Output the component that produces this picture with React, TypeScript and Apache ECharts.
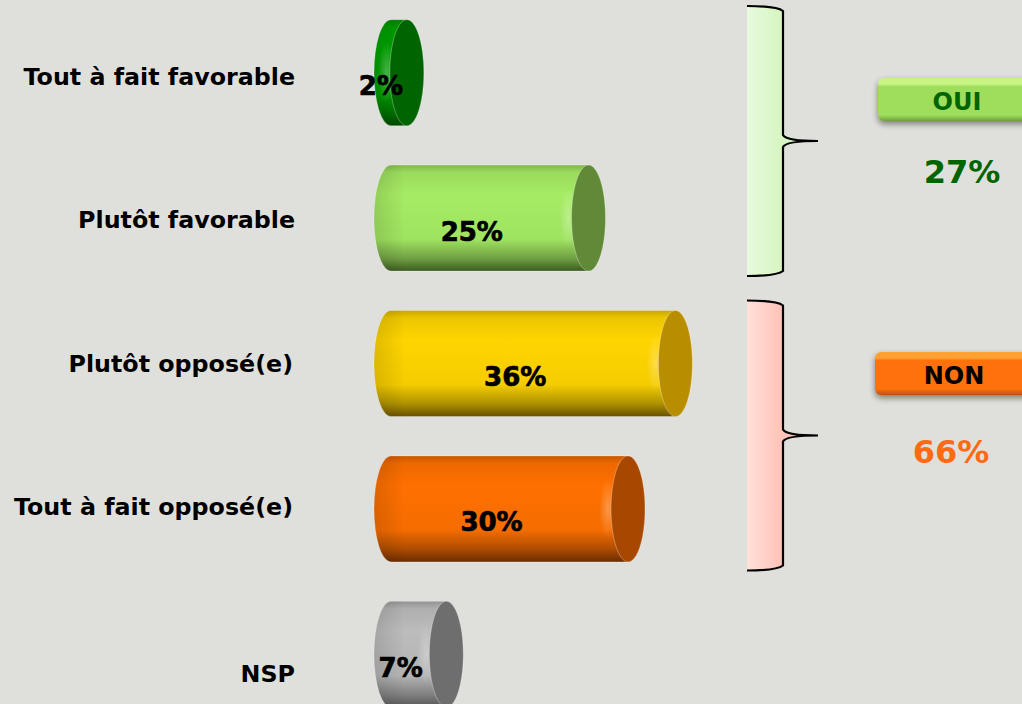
import React, { useEffect, useRef } from "react";
import * as echarts from "echarts";

const categories = ["Tout à fait favorable", "Plutôt favorable", "Plutôt opposé(e)", "Tout à fait opposé(e)", "NSP"];
const values = [2, 25, 36, 30, 7];
const labelTexts = ["2%", "25%", "36%", "30%", "7%"];
const bodyColors = ["#00a400", "#a6ec64", "#ffd500", "#ff7000", "#bcbcbc"];
const capColors = ["#006400", "#618a38", "#b88d00", "#a84800", "#6e6e6e"];
const edgeColors = ["#004a00", "#3c5c20", "#6a5000", "#6a2c00", "#555555"];
const categoryRightEdges = [295, 295, 293, 293, 295];
const categoryCentres = [77, 220, 364, 507, 674];

const groupTitles = ["OUI", "NON"];
const groupTotals = ["27%", "66%"];
const groupTitleColors = ["#006400", "#000000"];
const groupTotalColors = ["#006400", "#ff6a13"];
const groupFaces = ["#9ede5c", "#ff7108"];
const groupBevels = ["#c8f484", "#ffa030"];
const groupShades = ["#6f9e3e", "#b3541a"];
const groupBraceFills = [["#e8fadf", "#d6f5c0"], ["#ffe0da", "#ffc2b6"]];

const BG = "#dfe0db";
const FONT = '"DejaVu Sans"';
const BAR_H = 106;
const CAP_RX = 17;

const BRACE_LINE =
  "M747,6 C765,6 778,7 783,11 L783,135 C785,139 795,141 818,141 C795,141 785,143 783,147 L783,271 C778,275 765,276 747,276";
const BRACE_FILL = BRACE_LINE + " Z";
echarts.graphic.registerShape("braceFill", echarts.graphic.extendPath(BRACE_FILL, {}) as any);
echarts.graphic.registerShape("braceLine", echarts.graphic.extendPath(BRACE_LINE, {}) as any);

function shade(hex: string, k: number) {
  const n = parseInt(hex.slice(1), 16);
  const r = Math.round(((n >> 16) & 255) * k);
  const g = Math.round(((n >> 8) & 255) * k);
  const b = Math.round((n & 255) * k);
  return `rgb(${r},${g},${b})`;
}

function renderCylinder(params: any, api: any) {
  const i = params.dataIndex;
  const v = api.value(0);
  const [xL, cy] = api.coord([0, i]);
  const [xR] = api.coord([v, i]);
  const top = cy - BAR_H / 2;
  const bottom = cy + BAR_H / 2;
  const d = `M${xL},${top} L${xR},${top} A${CAP_RX},${BAR_H / 2} 0 0 1 ${xR},${bottom} L${xL},${bottom} A${CAP_RX},${BAR_H / 2} 0 0 1 ${xL},${top} Z`;
  const mid = bodyColors[i];
  return {
    type: "group",
    children: [
      {
        type: "path",
        shape: { pathData: d },
        style: {
          fill: new echarts.graphic.LinearGradient(0, 0, 0, 1, [
            { offset: 0, color: shade(mid, 0.78) },
            { offset: 0.07, color: shade(mid, 0.93) },
            { offset: 0.28, color: mid },
            { offset: 0.7, color: shade(mid, 0.96) },
            { offset: 0.88, color: shade(mid, 0.68) },
            { offset: 1, color: edgeColors[i] },
          ]),
          stroke: "rgba(255,255,255,0.3)",
          lineWidth: 1,
        },
      },
      {
        type: "path",
        shape: { pathData: d },
        style: {
          fill: new echarts.graphic.LinearGradient(xL - CAP_RX, 0, xL + 14, 0, [
            { offset: 0, color: "rgba(0,0,0,0.12)" },
            { offset: 1, color: "rgba(0,0,0,0)" },
          ], true),
        },
      },
      {
        type: "ellipse",
        shape: { cx: xR - CAP_RX - 3, cy: cy, rx: 9, ry: 30 },
        style: {
          fill: new echarts.graphic.RadialGradient(0.5, 0.5, 0.5, [
            { offset: 0, color: "rgba(255,255,255,0.28)" },
            { offset: 1, color: "rgba(255,255,255,0)" },
          ]),
        },
      },
      {
        type: "ellipse",
        shape: { cx: xR, cy: cy, rx: CAP_RX, ry: BAR_H / 2 },
        style: { fill: capColors[i], stroke: "rgba(255,255,255,0.3)", lineWidth: 1 },
      },
      {
        type: "text",
        style: {
          text: labelTexts[i],
          x: (xL + xR) / 2 - 18,
          y: cy + 13.5,
          align: "center",
          verticalAlign: "middle",
          fontFamily: FONT,
          fontWeight: "bold",
          fontSize: 26,
          fill: "#000000",
          stroke: "#000000",
          lineWidth: 0.7,
        },
      },
      {
        type: "text",
        style: {
          text: categories[i],
          x: categoryRightEdges[i],
          y: categoryCentres[i],
          align: "right",
          verticalAlign: "middle",
          fontFamily: FONT,
          fontWeight: "bold",
          fontSize: 23.75,
          fill: "#000000",
        },
      },
    ],
  };
}

function groupGraphics(g: number, braceDy: number, btnX: number, btnY: number, titleX: number, totalX: number, totalY: number) {
  const [f0, f1] = groupBraceFills[g];
  return [
    {
      type: "braceFill",
      x: 0,
      y: braceDy,
      style: {
        fill: new echarts.graphic.LinearGradient(0, 0, 1, 0, [
          { offset: 0, color: f0 },
          { offset: 0.5, color: f1 },
          { offset: 1, color: f1 },
        ]),
      },
    },
    {
      type: "braceLine",
      x: 0,
      y: braceDy,
      style: { fill: "none", stroke: "#000000", lineWidth: 2.2 },
    },
    {
      type: "rect",
      shape: { x: btnX, y: btnY, width: 170, height: 43, r: 6 },
      style: {
        fill: new echarts.graphic.LinearGradient(0, 0, 0, 1, [
          { offset: 0, color: groupBevels[g] },
          { offset: 0.14, color: groupBevels[g] },
          { offset: 0.2, color: groupFaces[g] },
          { offset: 0.86, color: groupFaces[g] },
          { offset: 1, color: groupShades[g] },
        ]),
        shadowBlur: 6,
        shadowOffsetY: 3,
        shadowColor: "rgba(0,0,0,0.45)",
      },
    },
    {
      type: "text",
      style: {
        text: groupTitles[g],
        x: titleX,
        y: btnY + 24,
        align: "center",
        verticalAlign: "middle",
        fontFamily: FONT,
        fontWeight: "bold",
        fontSize: 24,
        fill: groupTitleColors[g],
      },
    },
    {
      type: "text",
      style: {
        text: groupTotals[g],
        x: totalX,
        y: totalY,
        align: "center",
        verticalAlign: "middle",
        fontFamily: FONT,
        fontWeight: "bold",
        fontSize: 32,
        fill: groupTotalColors[g],
      },
    },
  ];
}

export default function App() {
  const ref = useRef<HTMLDivElement>(null);
  useEffect(() => {
    document.body.style.margin = "0";
    document.body.style.background = BG;
    const chart = echarts.init(ref.current!, undefined, { renderer: "svg" });
    chart.setOption({
      animation: false,
      backgroundColor: BG,
      grid: { left: 391, top: 0, width: 474, height: 727, outerBoundsMode: "none" },
      xAxis: { type: "value", min: 0, max: 60, show: false },
      yAxis: { type: "category", data: categories, inverse: true, show: false },
      graphic: {
        elements: [
          ...groupGraphics(0, 0, 878, 78, 957, 962, 172),
          ...groupGraphics(1, 294.5, 875, 352, 954, 951, 452),
        ],
      },
      series: [
        {
          type: "custom",
          coordinateSystem: "cartesian2d",
          renderItem: renderCylinder,
          encode: { x: 0, y: 1 },
          data: values.map((v, i) => [v, i]),
          clip: false,
        },
      ],
    });
    return () => chart.dispose();
  }, []);
  return <div ref={ref} style={{ width: 1022, height: 704 }} />;
}
